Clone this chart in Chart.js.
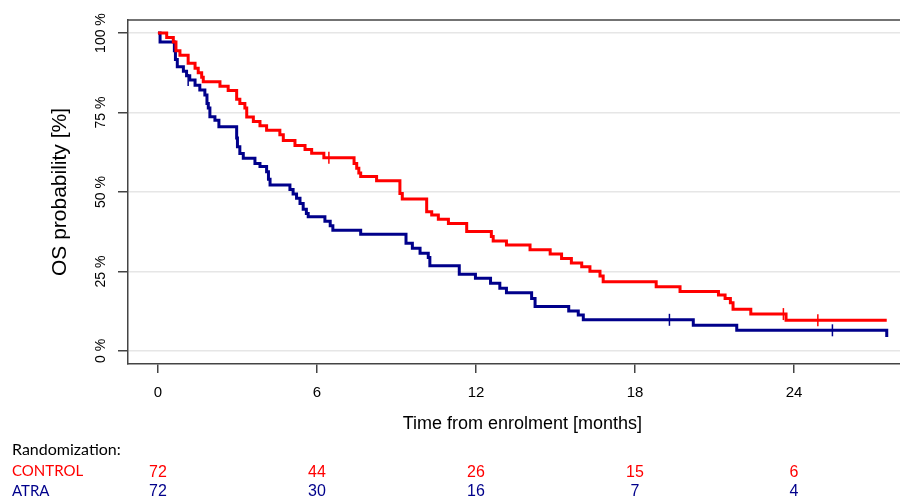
<!DOCTYPE html>
<html>
<head>
<meta charset="utf-8">
<script src="https://cdn.jsdelivr.net/npm/chart.js@4"></script>
<style>
  html, body { margin: 0; padding: 0; background: #fff; overflow: hidden; }
  #wrap { width: 900px; height: 497px; position: relative; }
</style>
</head>
<body>
<div id="wrap"><canvas id="kmChart"></canvas></div>
<script>
// ticks
const xTicks = [0, 6, 12, 18, 24];
const yTicks = [0, 25, 50, 75, 100];

// Kaplan-Meier steps, CONTROL arm (months, % surviving)
const controlTime = [0, 0.33, 0.58, 0.68, 0.83, 1.14, 1.40, 1.52, 1.65, 1.71, 2.34, 2.65, 2.97, 3.09, 3.28, 3.35, 3.60, 3.85, 4.10, 4.60, 4.73, 5.17, 5.55, 5.80, 6.26, 7.40, 7.50, 7.58, 7.65, 8.25, 9.13, 9.22, 10.14, 10.33, 10.58, 10.96, 11.65, 12.58, 12.65, 13.15, 14.04, 14.80, 15.23, 15.60, 15.99, 16.30, 16.68, 16.80, 18.80, 19.70, 21.15, 21.40, 21.60, 21.70, 22.37, 23.70, 27.50];
const controlSurv = [100, 98.6, 97.2, 94.4, 93.0, 90.5, 88.9, 87.5, 86.1, 84.7, 83.3, 81.9, 79.2, 77.8, 76.4, 73.6, 72.2, 70.8, 69.4, 68.0, 66.2, 64.6, 63.4, 62.2, 60.8, 59.0, 57.5, 56.0, 54.9, 53.5, 49.5, 47.8, 43.8, 42.8, 41.4, 40.1, 37.6, 36.0, 34.6, 33.3, 31.8, 30.5, 29.1, 27.7, 26.5, 25.1, 23.6, 21.8, 20.2, 18.7, 17.6, 16.5, 15.2, 13.1, 11.6, 9.7, 9.7];

// Kaplan-Meier steps, ATRA arm
const atraTime = [0, 0.08, 0.62, 0.66, 0.73, 0.96, 1.08, 1.20, 1.40, 1.58, 1.77, 1.85, 1.90, 1.96, 2.15, 2.30, 2.97, 3.00, 3.09, 3.22, 3.66, 3.85, 4.10, 4.17, 4.23, 4.98, 5.10, 5.23, 5.36, 5.48, 5.60, 5.67, 6.30, 6.50, 6.60, 7.65, 9.36, 9.60, 9.89, 10.20, 10.26, 11.37, 11.98, 12.55, 12.90, 13.15, 14.10, 14.23, 15.50, 15.86, 16.05, 20.20, 21.84, 27.45, 27.50];
const atraSurv = [100, 97.2, 94.4, 91.7, 89.4, 88.0, 86.6, 85.2, 83.6, 82.1, 80.5, 77.8, 76.4, 73.7, 72.6, 70.5, 67.0, 64.2, 62.1, 60.6, 59.0, 58.0, 56.4, 54.0, 52.2, 50.8, 49.4, 48.0, 46.4, 44.6, 43.2, 42.2, 40.8, 39.4, 38.0, 36.7, 33.9, 32.3, 30.7, 29.4, 26.8, 24.1, 22.9, 21.3, 19.7, 18.3, 16.5, 14.0, 12.6, 11.3, 9.8, 8.1, 6.5, 6.5, 4.4];

// censored observations
const controlCensorTime = [6.45, 23.6, 24.9];
const controlCensorSurv = [60.8, 11.6, 9.7];
const atraCensorTime = [1.14, 19.3, 25.45];
const atraCensorSurv = [85.2, 9.8, 6.5];

// numbers at risk
const riskTimes = [0, 6, 12, 18, 24];
const controlAtRisk = [72, 44, 26, 15, 6];
const atraAtRisk = [72, 30, 16, 7, 4];

const RED = '#ff0000';
const NAVY = '#00008b';
const AXIS = '#444444';

function toPoints(xs, ys) {
  return xs.map((x, i) => ({ x: x, y: ys[i] }));
}

const decorations = {
  id: 'decorations',
  afterDraw(chart) {
    const c = chart.ctx;
    const xs = chart.scales.x;
    const ys = chart.scales.y;
    const area = chart.chartArea;
    c.save();

    // top border of the box
    c.strokeStyle = AXIS;
    c.lineWidth = 1.5;
    c.beginPath();
    c.moveTo(area.left, area.top);
    c.lineTo(chart.width, area.top);
    c.stroke();

    // y tick labels, rotated
    c.fillStyle = '#000';
    c.font = '14px "Liberation Sans", Arial, sans-serif';
    c.textAlign = 'center';
    c.textBaseline = 'middle';
    yTicks.forEach(v => {
      c.save();
      c.translate(area.left - 27, ys.getPixelForValue(v));
      c.rotate(-Math.PI / 2);
      c.fillText(v + ' %', 0, 0);
      c.restore();
    });

    // x tick labels
    c.font = '15px "Liberation Sans", Arial, sans-serif';
    xTicks.forEach(v => {
      c.fillText(String(v), xs.getPixelForValue(v), area.bottom + 29);
    });

    // axis titles
    c.font = '18px "Liberation Sans", Arial, sans-serif';
    c.fillText('Time from enrolment [months]', xs.getPixelForValue(13.75), area.bottom + 60);
    c.save();
    c.translate(60, ys.getPixelForValue(50));
    c.rotate(-Math.PI / 2);
    c.font = '21px "Liberation Sans", Arial, sans-serif';
    c.fillText('OS probability [%]', 0, 0);
    c.restore();

    // risk table
    c.textAlign = 'left';
    c.textBaseline = 'alphabetic';
    c.fillStyle = '#000';
    c.font = '16px Lato, "Open Sans", sans-serif';
    c.fillText('Randomization:', 12, 455);
    c.font = '15px Lato, "Open Sans", sans-serif';
    c.fillStyle = RED;
    c.fillText('CONTROL', 12, 476);
    c.fillStyle = NAVY;
    c.fillText('ATRA', 12, 496);

    c.textAlign = 'center';
    c.font = '16px "Liberation Sans", Arial, sans-serif';
    riskTimes.forEach((t, i) => {
      const px = xs.getPixelForValue(t);
      c.fillStyle = RED;
      c.fillText(String(controlAtRisk[i]), px, 477);
      c.fillStyle = NAVY;
      c.fillText(String(atraAtRisk[i]), px, 496);
    });

    c.restore();
  }
};

new Chart(document.getElementById('kmChart'), {
  type: 'line',
  data: {
    datasets: [
      {
        label: 'CONTROL',
        data: toPoints(controlTime, controlSurv),
        stepped: true,
        borderColor: RED,
        borderWidth: 3,
        pointRadius: 0,
        fill: false
      },
      {
        label: 'ATRA',
        data: toPoints(atraTime, atraSurv),
        stepped: true,
        borderColor: NAVY,
        borderWidth: 3,
        pointRadius: 0,
        fill: false
      },
      {
        label: 'CONTROL censored',
        data: toPoints(controlCensorTime, controlCensorSurv),
        showLine: false,
        pointStyle: 'line',
        rotation: 90,
        pointRadius: 6,
        borderColor: RED,
        borderWidth: 1.5
      },
      {
        label: 'ATRA censored',
        data: toPoints(atraCensorTime, atraCensorSurv),
        showLine: false,
        pointStyle: 'line',
        rotation: 90,
        pointRadius: 6,
        borderColor: NAVY,
        borderWidth: 1.5
      }
    ]
  },
  options: {
    responsive: true,
    maintainAspectRatio: false,
    animation: false,
    events: [],
    layout: { autoPadding: false, padding: { top: 20, left: 0, right: 0, bottom: 0 } },
    plugins: {
      legend: { display: false },
      tooltip: { enabled: false },
      title: { display: false }
    },
    scales: {
      x: {
        type: 'linear',
        min: -1.13,
        max: 28.0,
        afterBuildTicks: s => { s.ticks = xTicks.map(v => ({ value: v })); },
        afterFit: s => { s.height = 133; },
        ticks: { display: false },
        grid: {
          drawOnChartArea: false,
          drawTicks: true,
          tickLength: 9,
          tickColor: AXIS,
          lineWidth: 1.5
        },
        border: { display: true, color: AXIS, width: 1.5 }
      },
      y: {
        type: 'linear',
        min: -4.1,
        max: 104.1,
        afterBuildTicks: s => { s.ticks = yTicks.map(v => ({ value: v })); },
        afterFit: s => { s.width = 128; },
        ticks: { display: false },
        grid: {
          color: '#e6e6e6',
          lineWidth: 1.5,
          drawTicks: true,
          tickLength: 10,
          tickColor: AXIS
        },
        border: { display: true, color: AXIS, width: 1.5 }
      }
    }
  },
  plugins: [decorations]
});
</script>
</body>
</html>
